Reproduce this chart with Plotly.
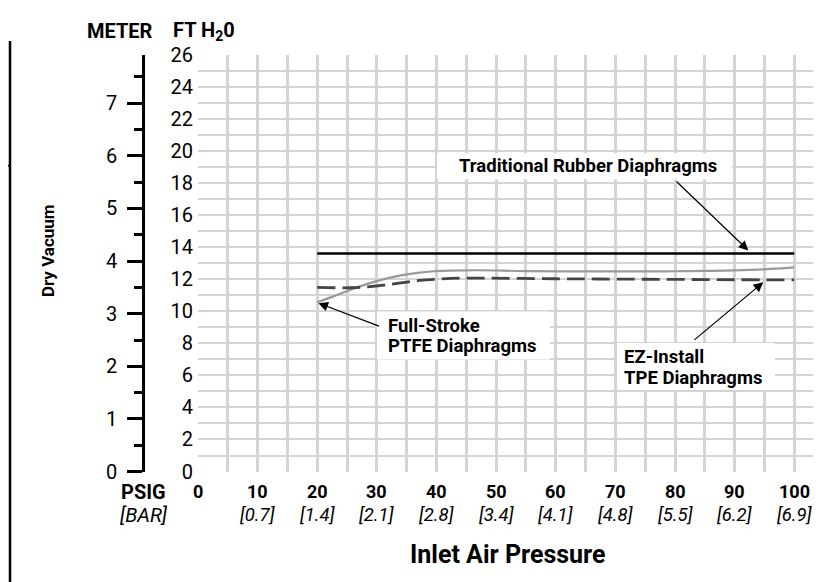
import plotly.graph_objects as go

# ---------------- data ----------------
rubber_psi = [20, 100]
rubber_ft = [13.6, 13.6]

ptfe_psi = [20, 22.8, 25.6, 28.4, 31.2, 34, 36.8, 39.6, 42.3, 47, 55, 65, 75, 80, 85, 90, 95, 100]
ptfe_ft = [10.56, 10.94, 11.34, 11.70, 12.0, 12.23, 12.39, 12.49, 12.53, 12.55, 12.5, 12.48, 12.48, 12.49, 12.51, 12.54, 12.61, 12.73]

tpe_psi = [20, 25.6, 28.4, 31.2, 34, 36.8, 39.6, 42.3, 47, 60, 70, 80, 90, 100]
tpe_ft = [11.48, 11.46, 11.52, 11.62, 11.76, 11.9, 11.98, 12.04, 12.06, 12.02, 12.0, 11.98, 11.96, 11.95]

psig_ticks = [0, 10, 20, 30, 40, 50, 60, 70, 80, 90, 100]
bar_labels = ["", "[0.7]", "[1.4]", "[2.1]", "[2.8]", "[3.4]", "[4.1]", "[4.8]", "[5.5]", "[6.2]", "[6.9]"]
ft_ticks = list(range(0, 27, 2))
meter_ticks = list(range(0, 8))
FT_PER_M = 3.2808

# ---------------- layout helpers ----------------
W, H = 821, 582
OFF = 8  # page offset of the figure inside the browser window
FONT = "Roboto, Liberation Sans, sans-serif"
px = lambda v: (v - OFF) / W          # screen pixel -> paper x
py = lambda v: 1 - (v - OFF) / H      # screen pixel -> paper y

fig = go.Figure()
fig.add_trace(go.Scatter(x=rubber_psi, y=rubber_ft, mode="lines",
                         line=dict(color="black", width=2.5), hoverinfo="skip"))
fig.add_trace(go.Scatter(x=ptfe_psi, y=ptfe_ft, mode="lines", line_shape="spline",
                         line=dict(color="#9a9a9a", width=2.2), hoverinfo="skip"))
fig.add_trace(go.Scatter(x=tpe_psi, y=tpe_ft, mode="lines", line_shape="spline",
                         line=dict(color="#444444", width=2.8, dash="18px,7px"), hoverinfo="skip"))
fig.add_trace(go.Scatter(x=[0], y=[0], yaxis="y2", mode="markers",
                         marker=dict(opacity=0), hoverinfo="skip"))

x_left = 198
y_top, y_bot = 44, 479
x_scale = (794 - 317) / 80.0
x_max = (W + OFF - x_left) / x_scale

fig.update_layout(
    width=W, height=H,
    margin=dict(l=0, r=0, t=0, b=0),
    paper_bgcolor="white", plot_bgcolor="white",
    showlegend=False,
    font=dict(family=FONT, size=19, color="black"),
    xaxis=dict(domain=[px(x_left), 1], range=[0, x_max],
               tickvals=list(range(0, 101, 5)), showticklabels=False,
               showgrid=True, gridcolor="#d4d4d4", gridwidth=2.5,
               zeroline=False, showline=False, fixedrange=True),
    yaxis=dict(domain=[py(y_bot), py(y_top)], range=[0, 26],
               tickvals=ft_ticks, ticktext=[str(v) for v in ft_ticks],
               showgrid=True, gridcolor="#d4d4d4", gridwidth=2,
               minor=dict(dtick=1, showgrid=True, gridcolor="#d4d4d4", gridwidth=2),
               zeroline=False, showline=False, ticks="", ticklabelstandoff=4,
               tickfont=dict(size=20), fixedrange=True),
    yaxis2=dict(overlaying="y", anchor="free", position=px(143), side="left",
                range=[0, 26 / FT_PER_M], tickvals=meter_ticks,
                showgrid=False, zeroline=False, showline=True,
                linecolor="black", linewidth=2.5,
                ticks="outside", ticklen=15, tickwidth=2.5, tickcolor="black",
                minor=dict(dtick=0.5, ticks="outside", ticklen=8, tickwidth=2.5,
                           tickcolor="black", showgrid=False),
                ticklabelstandoff=6, tickfont=dict(size=20), fixedrange=True),
)

ann = []
for v, b in zip(psig_ticks, bar_labels):
    ann.append(dict(x=v, y=py(500), xref="x", yref="paper", text=f"<b>{v}</b>",
                    showarrow=False, font=dict(size=18), xanchor="center", yanchor="middle",
                    borderpad=0))
    if b:
        ann.append(dict(x=v, y=py(524), xref="x", yref="paper", text=f"<i>{b}</i>",
                        showarrow=False, font=dict(size=18.5), xanchor="center", yanchor="middle",
                        borderpad=0))
ann.append(dict(x=px(143), y=py(500), xref="paper", yref="paper", text="<b>PSIG</b>",
                showarrow=False, font=dict(size=20), xanchor="center", yanchor="middle", borderpad=0))
ann.append(dict(x=px(144), y=py(524), xref="paper", yref="paper", text="<i>[BAR]</i>",
                showarrow=False, font=dict(size=20), xanchor="center", yanchor="middle", borderpad=0))
ann.append(dict(x=px(508), y=py(566), xref="paper", yref="paper", text="<b>Inlet Air Pressure</b>",
                showarrow=False, font=dict(size=25), xanchor="center", yanchor="middle"))
ann.append(dict(x=px(120), y=py(19), xref="paper", yref="paper", text="<b>METER</b>",
                showarrow=False, font=dict(size=20), xanchor="center", yanchor="middle"))
ann.append(dict(x=px(171), y=py(19), xref="paper", yref="paper", text="<b>FT H<sub>2</sub>0</b>",
                showarrow=False, font=dict(size=20), xanchor="left", yanchor="middle"))
ann.append(dict(x=px(48), y=py(249), xref="paper", yref="paper", text="<b>Dry Vacuum</b>",
                showarrow=False, font=dict(size=17), textangle=-90, xanchor="center", yanchor="middle"))

def label(xp, yp, txt):
    ann.append(dict(x=px(xp), y=py(yp), xref="paper", yref="paper", text=f"<b>{txt}</b>",
                    showarrow=False, font=dict(size=18.5), xanchor="left", yanchor="middle"))

label(457, 160, "Traditional Rubber Diaphragms")
label(386, 327, "Full-Stroke")
label(386, 348, "PTFE Diaphragms")
label(622, 359, "EZ-Install")
label(622, 381, "TPE Diaphragms")

# arrows (tail -> head, data coords)
arrows = [((80.0, 18.17), (92.3, 13.78)),
          ((30.6, 9.03), (20.2, 10.5)),
          ((83.0, 8.13), (94.8, 11.8))]
for (tx, ty), (hx, hy) in arrows:
    ann.append(dict(x=hx, y=hy, ax=tx, ay=ty, xref="x", yref="y", axref="x", ayref="y",
                    text="", showarrow=True, arrowhead=2, arrowsize=1.6, arrowwidth=1.2,
                    arrowcolor="black", standoff=0, startstandoff=0))

fig.update_layout(annotations=ann)

shapes = [
    dict(type="rect", xref="paper", yref="paper", x0=px(437), x1=px(732), y0=py(147), y1=py(174),
         fillcolor="white", line=dict(width=0), layer="above"),
    dict(type="rect", xref="paper", yref="paper", x0=px(377), x1=px(550), y0=py(312), y1=py(362),
         fillcolor="white", line=dict(width=0), layer="above"),
    dict(type="rect", xref="paper", yref="paper", x0=px(617), x1=px(775), y0=py(345), y1=py(394),
         fillcolor="white", line=dict(width=0), layer="above"),
    dict(type="line", xref="paper", yref="paper", x0=px(10), x1=px(10), y0=py(30), y1=py(600),
         line=dict(color="black", width=2.5)),
    dict(type="line", xref="paper", yref="paper", x0=px(0), x1=px(10), y0=py(160), y1=py(160),
         line=dict(color="black", width=2)),
]
fig.update_layout(shapes=shapes)

fig.write_html("out.html")
